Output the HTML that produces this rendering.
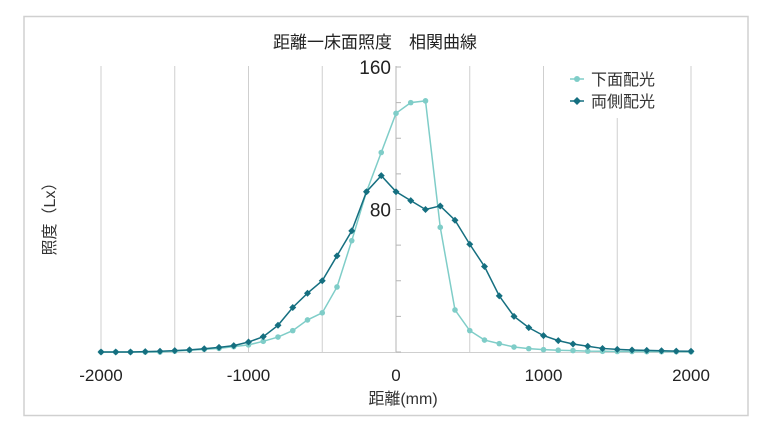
<!DOCTYPE html>
<html><head><meta charset="utf-8"><style>
body{margin:0;background:#fff;}
svg{display:block;font-family:"Liberation Sans","Noto Sans CJK JP",sans-serif;}
</style></head><body>
<svg id="chart" width="770" height="433">
<rect x="24" y="16.5" width="724" height="399" fill="#fff" stroke="#d0d0d0" stroke-width="1.5"/>
<text x="375" y="48" font-size="17" text-anchor="middle" fill="#222">距離一床面照度　相関曲線</text>
<g id="grid"></g>
<g id="axes"></g>
<g id="series"></g>
<text transform="translate(55,215) rotate(-90)" font-size="16" text-anchor="middle" fill="#333">照度（Lx）</text>
<text x="403" y="404" font-size="16" text-anchor="middle" fill="#333">距離(mm)</text>
<g>
<line x1="570" y1="79" x2="584" y2="79" stroke="#7fcdc8" stroke-width="1.5"/><circle cx="577" cy="79" r="3" fill="#7fcdc8"/>
<text x="591" y="85" font-size="16" fill="#333">下面配光</text>
<line x1="570" y1="101" x2="584" y2="101" stroke="#156f80" stroke-width="1.5"/><path d="M577 97 L581 101 L577 105 L573 101Z" fill="#156f80"/>
<text x="591" y="107" font-size="16" fill="#333">両側配光</text>
</g>
</svg>
<script>
const xValues=[];for(let v=-2000;v<=2000;v+=100)xValues.push(v);
const downLight=[0,0,0,0,0,0.5,1,1.5,2,3,4,6,8.4,12,18,22,36.5,62.5,90,112,134,140,141,70,23.6,12,6.7,4.7,2.8,1.9,1.3,1.0,0.8,0.5,0.4,0.3,0.3,0.2,0.2,0.2,0.1];
const bothSide=[0,0,0,0.2,0.4,0.8,1.2,1.8,2.6,3.6,5.6,8.6,15,25,33,40,54,68,90,99,90,85,80,82,74,60.5,48,31.5,20,13.7,9.2,6.4,4.5,3.2,2,1.5,1.1,0.9,0.7,0.5,0.4];
const xTicks=[-2000,-1500,-1000,-500,0,500,1000,1500,2000];
const xTickLabels=["-2000","","-1000","","0","","1000","","2000"];
const yTicks=[0,20,40,60,80,100,120,140,160];
const yTickLabels=["","","","","80","","","","160"];
const NS="http://www.w3.org/2000/svg";
const X=v=>396+v*(295/2000);
const Y=v=>352-v*(285/160);
function mk(tag,attrs,parent){const e=document.createElementNS(NS,tag);for(const k in attrs)e.setAttribute(k,attrs[k]);parent.appendChild(e);return e;}
const grid=document.getElementById('grid'),axes=document.getElementById('axes'),ser=document.getElementById('series');
xTicks.forEach((t,i)=>{
 const top=(t===1500)?118:66;
 const l=mk('line',{x1:X(t),x2:X(t),y1:top,y2:352,stroke:t===0?'#b5b5b5':'#cfcfcf','stroke-width':1},grid);
 
 
 if(xTickLabels[i]){const tx=mk('text',{x:X(t),y:381,'font-size':17,'text-anchor':'middle',fill:'#222'},axes);tx.textContent=xTickLabels[i];
 
 }
});
const base=mk('line',{x1:X(-2000),x2:X(2000),y1:352.5,y2:352.5,stroke:'#cfcfcf'},axes);


yTicks.forEach((t,i)=>{
 const l=mk('line',{x1:X(0),x2:X(0)+5,y1:Y(t),y2:Y(t),stroke:'#b5b5b5'},axes);
 
 
 if(yTickLabels[i]){const tx=mk('text',{x:X(0)-5,y:Y(t)+7,'font-size':19,'text-anchor':'end',fill:'#222'},axes);tx.textContent=yTickLabels[i];
 
 }
});
function drawSeries(vals,color,name,diamond){
 const g=mk('g',{},ser);
 
 
 const pl=mk('polyline',{points:vals.map((v,i)=>X(xValues[i])+','+Y(v)).join(' '),fill:'none',stroke:color,'stroke-width':1.5},g);
 
 
 vals.forEach((v,i)=>{const cx=X(xValues[i]),cy=Y(v);let m;
  if(diamond)m=mk('path',{d:`M${cx} ${cy-3.5}L${cx+3.5} ${cy}L${cx} ${cy+3.5}L${cx-3.5} ${cy}Z`,fill:color},g);
  else m=mk('circle',{cx:cx,cy:cy,r:2.8,fill:color},g);
  
  });
}
drawSeries(downLight,'#7fcdc8','downlight-series',false);
drawSeries(bothSide,'#156f80','bothside-series',true);
</script>
</body></html>
